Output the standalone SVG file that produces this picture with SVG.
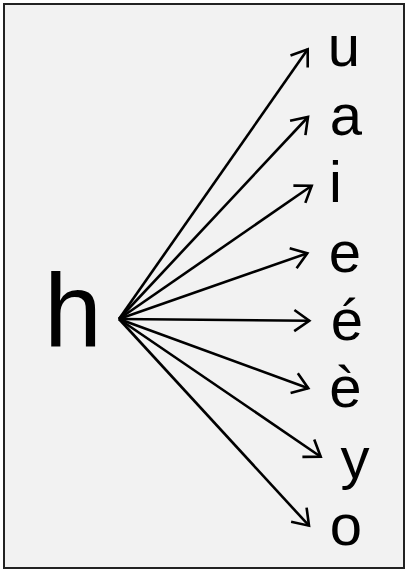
<svg xmlns="http://www.w3.org/2000/svg" width="407" height="571" viewBox="0 0 407 571">
<style>
.lbl{font-family:"Liberation Sans","DejaVu Sans",sans-serif;font-size:58px;fill:#000;text-anchor:middle}
.big{font-family:"Liberation Sans","DejaVu Sans",sans-serif;font-size:104px;fill:#000;text-anchor:middle}
.edge{stroke:#000;stroke-width:2.6;fill:none;marker-end:url(#arr)}
</style>
<defs>
<marker id="arr" markerUnits="userSpaceOnUse" markerWidth="20" markerHeight="24" refX="17" refY="12" orient="auto" viewBox="0 0 20 24">
<path d="M2,1.5 L17,12 L2,22.5" fill="none" stroke="#000" stroke-width="2.6" stroke-linejoin="miter"/>
</marker>
</defs>
<rect x="4" y="4" width="400" height="564" fill="#f2f2f2" stroke="#222" stroke-width="2"/>
<g id="connectors">
<line class="edge" x1="119" y1="319" x2="307.7" y2="49.3"/>
<line class="edge" x1="119" y1="319" x2="308" y2="117"/>
<line class="edge" x1="119" y1="319" x2="311.7" y2="185.7"/>
<line class="edge" x1="119" y1="319" x2="307.3" y2="253.3"/>
<line class="edge" x1="119" y1="319" x2="309.3" y2="320.7"/>
<line class="edge" x1="119" y1="319" x2="308.3" y2="388.3"/>
<line class="edge" x1="119" y1="319" x2="320.7" y2="456.7"/>
<line class="edge" x1="119" y1="319" x2="309" y2="525.7"/>
</g>
<g id="node-h"><text class="big" x="73" y="346">h</text></g>
<g id="node-u"><text class="lbl" x="344" y="66">u</text></g>
<g id="node-a"><text class="lbl" x="346" y="135">a</text></g>
<g id="node-i"><text class="lbl" x="335.5" y="202">i</text></g>
<g id="node-e"><text class="lbl" x="345" y="272">e</text></g>
<g id="node-e-acute"><text class="lbl" x="347" y="340">é</text></g>
<g id="node-e-grave"><text class="lbl" x="345.5" y="407">è</text></g>
<g id="node-y"><text class="lbl" x="355" y="478">y</text></g>
<g id="node-o"><text class="lbl" x="346" y="545">o</text></g>
</svg>
